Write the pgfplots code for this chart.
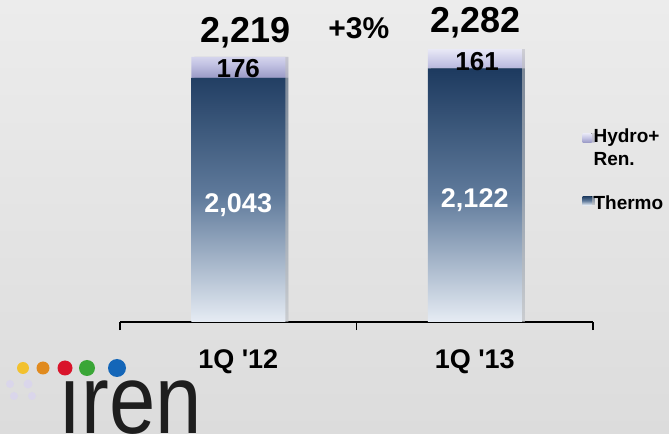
\documentclass[border=0pt]{standalone}
\usepackage{pgfplots}
\pgfplotsset{compat=1.18}
\usetikzlibrary{shadows}
\usepackage{fontspec}
\setmainfont{Liberation Sans}

\definecolor{bgtop}{HTML}{ECECEC}
\definecolor{bgbot}{HTML}{DCDCDC}
\definecolor{thtop}{HTML}{1D3A5F}
\definecolor{thmid}{HTML}{5F7A9B}
\definecolor{thbot}{HTML}{E6ECF4}
\definecolor{hytop}{HTML}{E8E8F6}
\definecolor{hymid}{HTML}{C4C4E4}
\definecolor{hybot}{HTML}{9A9AC6}
\definecolor{logotxt}{HTML}{1E1E1E}
\definecolor{faintdot}{HTML}{DAD6EB}
\definecolor{dotyel}{RGB}{242,193,46}
\definecolor{dotora}{RGB}{224,138,30}
\definecolor{dotred}{RGB}{217,20,43}
\definecolor{dotgrn}{RGB}{58,166,55}
\definecolor{dotblu}{RGB}{20,102,184}

\pgfplotsset{
  thlegend/.style={legend image code/.code={\fill[#1] (0bp,-2bp) rectangle (9bp,7bp);}},
  hylegend/.style={legend image code/.code={\fill[#1] (0bp,5bp) rectangle (9bp,14bp);}},
}

\begin{document}
\begin{tikzpicture}
\shade[top color=bgtop, bottom color=bgbot] (0,0) rectangle (669bp,434bp);

\begin{axis}[
    at={(120bp,112bp)}, anchor=south west,
    scale only axis, width=473bp, height=322bp,
    xmin=-0.5, xmax=1.5, ymin=0, ymax=2695,
    ybar stacked, bar width=94bp,
    axis y line=none, axis x line*=bottom,
    axis line style={black, line width=1.3bp},
    xtick={-0.5,0.5,1.5}, xticklabels={,,},
    major tick length=8bp, tick align=outside,
    tick style={black, line width=1.3bp},
    extra x ticks={0,1},
    extra x tick labels={1Q \textquotesingle12, 1Q \textquotesingle13},
    extra x tick style={major tick length=0pt,
        xticklabel style={anchor=base, yshift=-47bp}},
    xticklabel style={font=\fontsize{27bp}{30bp}\selectfont\bfseries},
    clip=false,
    reverse legend,
    legend style={at={(axis cs:1.455,1640)}, anchor=north west,
        draw=none, fill=none, inner sep=0pt, row sep=25bp,
        font=\fontsize{19bp}{23bp}\selectfont\bfseries,
        cells={anchor=west, align=left}},
]
\addplot[draw=none, top color=thtop, bottom color=thbot, middle color=thmid,
    drop shadow={shadow xshift=3bp, shadow yshift=0bp, opacity=0.4}, thlegend]
    coordinates {(0,2043) (1,2122)};
\addlegendentry{Thermo}
\addplot[draw=none, top color=hytop, bottom color=hybot, middle color=hymid,
    drop shadow={shadow xshift=3bp, shadow yshift=0bp, opacity=0.4}, hylegend]
    coordinates {(0,176) (1,161)};
\addlegendentry{Hydro+\\Ren.}

% label anchors
\coordinate (th1) at (axis cs:0,979);
\coordinate (th2) at (axis cs:1,1021);
\coordinate (hy1) at (axis cs:0,2118);
\coordinate (hy2) at (axis cs:1.01,2176);
\coordinate (tot1) at (axis cs:0.03,2419);
\coordinate (tot2) at (axis cs:1.005,2507);
\coordinate (gr) at (axis cs:0.51,2461);
\end{axis}

\node[font=\fontsize{27bp}{30bp}\selectfont\bfseries, text=white] at (th1) {2,043};
\node[font=\fontsize{27bp}{30bp}\selectfont\bfseries, text=white] at (th2) {2,122};
\node[font=\fontsize{26bp}{30bp}\selectfont\bfseries] at (hy1) {176};
\node[font=\fontsize{26bp}{30bp}\selectfont\bfseries] at (hy2) {161};
\node[font=\fontsize{36bp}{40bp}\selectfont\bfseries] at (tot1) {2,219};
\node[font=\fontsize{36bp}{40bp}\selectfont\bfseries] at (tot2) {2,282};
\node[font=\fontsize{30bp}{34bp}\selectfont\bfseries] at (gr) {+3\%};

% logo
\foreach \x/\y/\r in {10/50/4, 28/50/4.5, 14/38/4, 32/38/4}
  \fill[faintdot] (\x bp,\y bp) circle (\r bp);
\fill[dotyel] (23bp,66bp) circle (6bp);
\fill[dotora] (43bp,66bp) circle (6.5bp);
\fill[dotred] (65bp,66bp) circle (7.5bp);
\fill[dotgrn] (87bp,66bp) circle (8bp);
\fill[dotblu] (117bp,66bp) circle (9bp);
\node[anchor=base west, inner sep=0pt, text=logotxt, xscale=0.85]
    at (58bp,1bp) {\fontsize{98bp}{98bp}\selectfont ıren};

\pgfresetboundingbox
\path (0,0) rectangle (669bp,434bp);
\end{tikzpicture}
\end{document}
